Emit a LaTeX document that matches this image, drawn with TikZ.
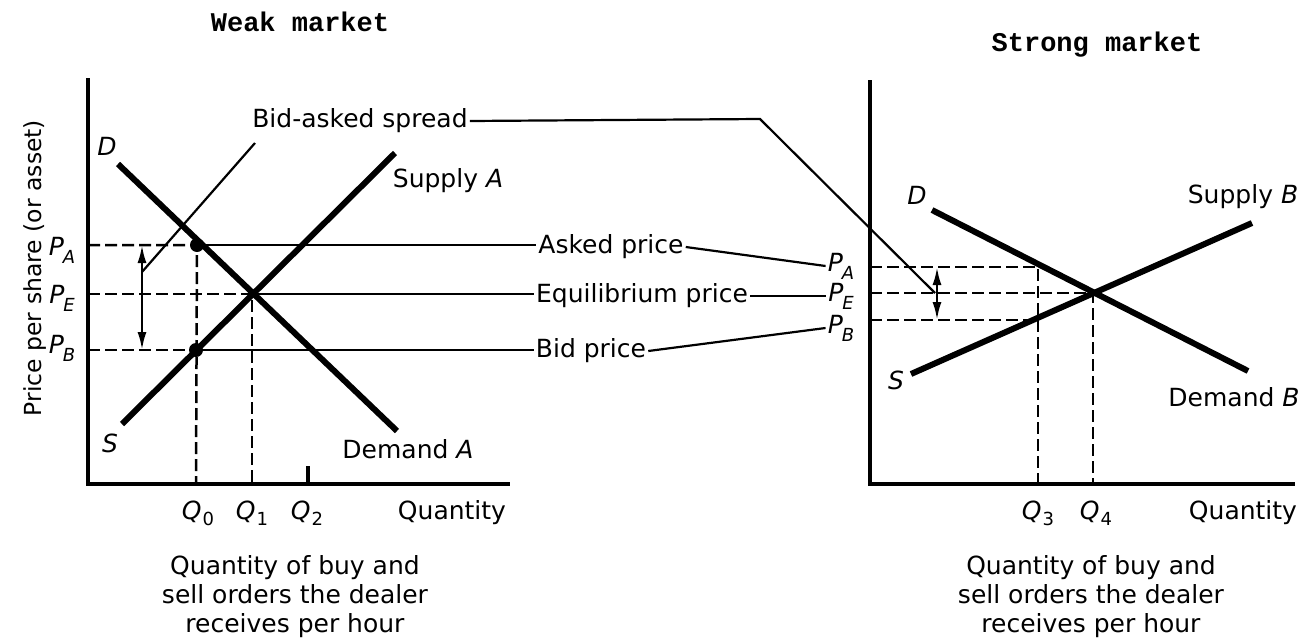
\documentclass[tikz,border=0pt]{standalone}
\usepackage{fontspec}
\setmainfont{DejaVu Sans}
\newfontfamily\typefont{Liberation Mono}
\usetikzlibrary{arrows.meta}

\newcommand{\pv}[2]{\textit{#1}\kern-1pt\raisebox{-8pt}{\fontsize{18}{18}\selectfont\textit{#2}}}
\newcommand{\qv}[2]{\textit{#1}\kern1pt\raisebox{-6pt}{\fontsize{18}{18}\selectfont #2}}

\begin{document}
\begin{tikzpicture}[x=1pt,y=-1pt,
          every node/.style={font=\fontsize{25}{29}\selectfont,inner sep=2pt},
          title/.style={font=\typefont\bfseries\fontsize{27}{30}\selectfont},
          caption/.style={align=center},
          curve/.style={line width=6pt},
          axis/.style={line width=3.5pt},
          guide/.style={line width=2.2pt},
          dashguide/.style={line width=2.5pt,dash pattern=on 12pt off 5pt},
          spread/.style={line width=2.5pt,{Latex[length=18pt,width=9pt]}-{Latex[length=18pt,width=9pt]}}]
        \useasboundingbox (0,0) rectangle (1302,643);
        % titles and axis label
        \node[title] (tA) at (300,22) {Weak market};
        \node[title] (tB) at (1097,45) {Strong market};
        \node[rotate=90,font=\fontsize{23.5}{26}\selectfont] (py) at (35,268) {Price per share (or asset)};
        % weak market
        \coordinate (oA) at (88,484);
        \coordinate (yA) at (88,78);
        \coordinate (xA) at (510,484);
        \coordinate (aA) at (88,245);
        \coordinate (eA) at (88,294);
        \coordinate (bA) at (88,350);
        \coordinate (q0a) at (197,245);
        \coordinate (q0b) at (196,350);
        \coordinate (eqA) at (252,294);
        \coordinate (q0) at (196,484);
        \coordinate (q1) at (252,484);
        \coordinate (q2t) at (308,466);
        \coordinate (q2) at (308,484);
        \coordinate (dA1) at (118,164);
        \coordinate (dA2) at (397,431);
        \coordinate (sA1) at (122,424);
        \coordinate (sA2) at (395,153);
        \draw[axis] (yA) -- (oA) -- (xA);
        \draw[axis] (q2t) -- (q2);
        \draw[dashguide] (aA) -- (q0a) -- (q0);
        \draw[dashguide] (eA) -- (eqA) -- (q1);
        \draw[dashguide] (bA) -- (q0b);
        \draw[curve] (dA1) -- (dA2);
        \draw[curve] (sA1) -- (sA2);
        \fill (q0a) circle (7);
        \fill (q0b) circle (7);
        \node (PAl) at (62,250) {\pv{P}{A}};
        \node (PEl) at (62,298) {\pv{P}{E}};
        \node (PBl) at (62,348) {\pv{P}{B}};
        \node (DlA) at (107,146) {\textit{D}};
        \node (SlA) at (110,443) {\textit{S}};
        \node (supA) at (448,181) {Supply \textit{A}};
        \node (demA) at (408,449) {Demand \textit{A}};
        \node (Q0) at (198,513) {\qv{Q}{0}};
        \node (Q1) at (252,513) {\qv{Q}{1}};
        \node (Q2) at (307,513) {\qv{Q}{2}};
        \node (qtA) at (452,513) {Quantity};
        \node[caption] (capA) at (295,597) {Quantity of buy and\\sell orders the dealer\\receives per hour};
        % spread arrows
        \coordinate (spA1) at (142,245);
        \coordinate (spA2) at (142,350);
        \coordinate (slA) at (142,272);
        \coordinate (slT) at (255,143);
        \draw[spread] (spA1) -- (spA2);
        % price labels in the middle
        \node (ask) at (611,247) {Asked price};
        \node (equ) at (642,296) {Equilibrium price};
        \node (bid) at (591,351) {Bid price};
        \node (spr) at (360,121) {Bid-asked spread};
        \draw[guide] (q0a) -- (q0a -| ask.west);
        \draw[guide] (eqA) -- (eqA -| equ.west);
        \draw[guide] (q0b) -- (q0b -| bid.west);
        % strong market
        \coordinate (oB) at (870,484);
        \coordinate (yB) at (870,80);
        \coordinate (xB) at (1295,484);
        \coordinate (aB) at (870,267);
        \coordinate (eB) at (870,293);
        \coordinate (bB) at (870,320);
        \coordinate (q3a) at (1038,267);
        \coordinate (q3b) at (1038,320);
        \coordinate (eqB) at (1093,293);
        \coordinate (q3) at (1038,484);
        \coordinate (q4) at (1093,484);
        \coordinate (dB1) at (932,210);
        \coordinate (dB2) at (1248,371);
        \coordinate (sB1) at (911,374);
        \coordinate (sB2) at (1252,223);
        \draw[axis] (yB) -- (oB) -- (xB);
        \draw[dashguide] (aB) -- (q3a) -- (q3);
        \draw[dashguide] (eB) -- (eqB) -- (q4);
        \draw[dashguide] (bB) -- (q3b);
        \draw[curve] (dB1) -- (dB2);
        \draw[curve] (sB1) -- (sB2);
        \node (PAr) at (841,266) {\pv{P}{A}};
        \node (PEr) at (841,296) {\pv{P}{E}};
        \node (PBr) at (841,328) {\pv{P}{B}};
        \node (DlB) at (917,195) {\textit{D}};
        \node (SlB) at (896,380) {\textit{S}};
        \node (supB) at (1243,197) {Supply \textit{B}};
        \node (demB) at (1234,397) {Demand \textit{B}};
        \node (Q3) at (1038,513) {\qv{Q}{3}};
        \node (Q4) at (1096,513) {\qv{Q}{4}};
        \node (qtB) at (1243,513) {Quantity};
        \node[caption] (capB) at (1091,597) {Quantity of buy and\\sell orders the dealer\\receives per hour};
        \coordinate (spB1) at (937,267);
        \coordinate (spB2) at (937,320);
        \coordinate (slB) at (935,293);
        \coordinate (slK) at (760,119);
        \draw[spread] (spB1) -- (spB2);
        % leaders
        \draw[guide] (slA) -- (slT);
        \draw[guide] (spr.east) -- (slK) -- (slB);
        \draw[guide] (ask.east) -- (PAr.west);
        \draw[guide] (equ.east) -- (PEr.west);
        \draw[guide] (bid.east) -- (PBr.west);
\end{tikzpicture}
\end{document}
